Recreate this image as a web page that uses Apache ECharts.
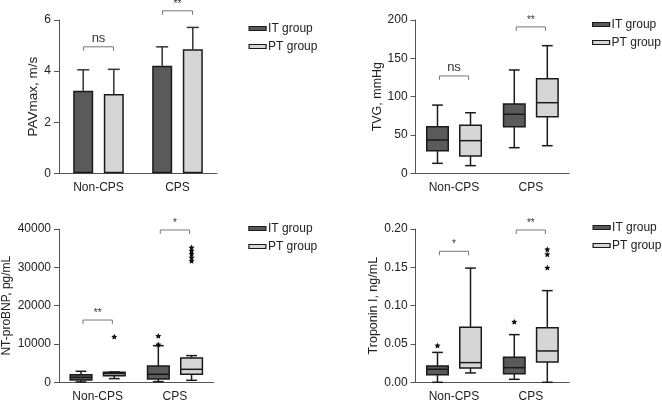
<!DOCTYPE html>
<html>
<head>
<meta charset="utf-8">
<script src="https://cdn.jsdelivr.net/npm/echarts@6/dist/echarts.min.js"></script>
<style>
html,body{margin:0;padding:0;background:#fff;}
#c{width:662px;height:403px;}
</style>
</head>
<body>
<div id="c"></div>
<script>
// ---------- data ----------
var categories = ['Non-CPS', 'CPS'];
var groupNames = ['IT group', 'PT group'];

// PAVmax, m/s (mean, SD)
var pavITMean = [3.23, 4.21];
var pavITSD   = [0.82, 0.74];
var pavPTMean = [3.10, 4.86];
var pavPTSD   = [0.97, 0.85];
var pavTicks  = [0, 2, 4, 6];
var pavSig    = [[0, 4.95], [1, 6.36]];
var pavSigLabels = ['ns', '**'];

// TVG, mmHg  [min, Q1, median, Q3, max]
var tvgIT = [[13, 29.5, 43.5, 60.8, 89], [33.4, 60.8, 77, 90.4, 134.8]];
var tvgPT = [[10, 22.6, 42.6, 62.6, 79], [36, 73.9, 92.1, 123.4, 166.5]];
var tvgTicks = [0, 50, 100, 150, 200];
var tvgSig = [[0, 127], [1, 191]];
var tvgSigLabels = ['ns', '**'];

// NT-proBNP, pg/mL
var bnpIT = [[100, 600, 1300, 2000, 2870], [170, 870, 2090, 4260, 9560]];
var bnpPT = [[960, 1740, 2260, 2600, 2700], [520, 2090, 3390, 6350, 6960]];
var bnpITOut = [[1, 9900], [1, 12100]];
var bnpPTOut = [[0, 11900], [1, 31700], [1, 32600], [1, 33500], [1, 34300], [1, 35200]];
var bnpTicks = [0, 10000, 20000, 30000, 40000];
var bnpSig = [[0, 16250], [1, 39740]];
var bnpSigLabels = ['**', '*'];

// Troponin I, ng/mL
var tropIT = [[0, 0.010, 0.017, 0.0213, 0.039], [0.0039, 0.0113, 0.0191, 0.0326, 0.0622]];
var tropPT = [[0.0122, 0.0187, 0.0257, 0.0717, 0.149], [0, 0.0265, 0.0409, 0.0713, 0.1196]];
var tropITOut = [[0, 0.048], [1, 0.079]];
var tropPTOut = [[1, 0.1495], [1, 0.167], [1, 0.1735]];
var tropTicks = [0, 0.05, 0.10, 0.15, 0.20];
var tropSig = [[0, 0.1709], [1, 0.1987]];
var tropSigLabels = ['*', '**'];

// ---------- styling ----------
var FONT = '"Liberation Sans", Arial, sans-serif';
var IT_FILL = '#5a5a5a';
var PT_FILL = '#d6d6d6';
var EDGE = '#1a1a1a';
var AXIS = '#555';
var TXT = '#222';
var STAR = 'M0,-10 L2.9,-4 L9.5,-3.1 L4.7,1.5 L5.9,8.1 L0,5 L-5.9,8.1 L-4.7,1.5 L-9.5,-3.1 L-2.9,-4 Z';

function withIndex(arr) { return arr.map(function (d, i) { return [i].concat(d); }); }

function boxItem(side, fill) {
  return function (params, api) {
    var cat = api.value(0);
    var band = api.size([1, 0])[0];
    var cx = api.coord([cat, 0])[0] + side * band * 0.215;
    var w = band * 0.28, cw = w * 0.5;
    var Y = function (i) { return api.coord([cat, api.value(i)])[1]; };
    var lo = Y(1), q1 = Y(2), md = Y(3), q3 = Y(4), hi = Y(5);
    var ls = { stroke: EDGE, lineWidth: 1.5 };
    return { type: 'group', children: [
      { type: 'line', shape: { x1: cx, y1: q3, x2: cx, y2: hi }, style: ls },
      { type: 'line', shape: { x1: cx, y1: q1, x2: cx, y2: lo }, style: ls },
      { type: 'line', shape: { x1: cx - cw / 2, y1: hi, x2: cx + cw / 2, y2: hi }, style: ls },
      { type: 'line', shape: { x1: cx - cw / 2, y1: lo, x2: cx + cw / 2, y2: lo }, style: ls },
      { type: 'rect', shape: { x: cx - w / 2, y: q3, width: w, height: q1 - q3 }, style: { fill: fill, stroke: EDGE, lineWidth: 1.5 } },
      { type: 'line', shape: { x1: cx - w / 2, y1: md, x2: cx + w / 2, y2: md }, style: ls }
    ]};
  };
}

function starItem(side) {
  return function (params, api) {
    var cat = api.value(0);
    var band = api.size([1, 0])[0];
    var p = api.coord([cat, api.value(1)]);
    var cx = p[0] + side * band * 0.215;
    return { type: 'path', shape: { pathData: STAR, x: cx - 3, y: p[1] - 3, width: 6, height: 6 }, style: { fill: '#111' } };
  };
}

function sigItem(labels) {
  return function (params, api) {
    var cat = api.value(0);
    var band = api.size([1, 0])[0];
    var c = api.coord([cat, api.value(1)]);
    var h = band * 0.19;
    var lab = labels[params.dataIndex];
    var fs = lab === 'ns' ? 13 : 10;
    return { type: 'group', children: [
      { type: 'polyline', shape: { points: [[c[0] - h, c[1] + 4], [c[0] - h, c[1]], [c[0] + h, c[1]], [c[0] + h, c[1] + 4]] },
        style: { stroke: '#777', lineWidth: 1, fill: null } },
      { type: 'text', style: { text: lab, x: c[0], y: c[1] - 2, align: 'center', verticalAlign: 'bottom',
        font: fs + 'px ' + FONT, fill: '#333' } }
    ]};
  };
}

function errItem(side, sd) {
  return function (params, api) {
    var cat = api.value(0);
    var m = api.value(1);
    var p0 = api.coord([cat, m]);
    var p1 = api.coord([cat, m + sd[params.dataIndex]]);
    var cx = p0[0] + side * 15.3;
    var ls = { stroke: '#333', lineWidth: 1.5 };
    return { type: 'group', children: [
      { type: 'line', shape: { x1: cx, y1: p0[1], x2: cx, y2: p1[1] }, style: ls },
      { type: 'line', shape: { x1: cx - 6, y1: p1[1], x2: cx + 6, y2: p1[1] }, style: ls }
    ]};
  };
}

var grids = [
  { left: 59, top: 20, width: 158, height: 153.3 },
  { left: 415.6, top: 20, width: 153.6, height: 153.3 },
  { left: 59, top: 229, width: 154.6, height: 153.3 },
  { left: 415.6, top: 229, width: 153.6, height: 153.3 }
];

function xAx(i) {
  return {
    type: 'category', gridIndex: i, data: categories,
    axisLine: { lineStyle: { color: AXIS, width: 1 } },
    axisTick: { alignWithLabel: true, length: 5, lineStyle: { color: AXIS } },
    axisLabel: { color: TXT, fontSize: 12, fontFamily: FONT, margin: 8 }
  };
}
function yAx(i, ticks, name, gap, nameSize, fmt) {
  return {
    type: 'value', gridIndex: i, min: ticks[0], max: ticks[ticks.length - 1], interval: ticks[1] - ticks[0],
    name: name, nameLocation: 'middle', nameGap: gap,
    nameTextStyle: { color: TXT, fontSize: nameSize, fontFamily: FONT },
    axisLine: { show: true, lineStyle: { color: AXIS, width: 1 } },
    axisTick: { show: true, length: 5, lineStyle: { color: AXIS } },
    splitLine: { show: false },
    axisLabel: { color: TXT, fontSize: 12, fontFamily: FONT, margin: 8, formatter: fmt || function (v) { return String(v); } }
  };
}
function legend(left, top) {
  return {
    orient: 'vertical', left: left, top: top, padding: 0, itemGap: 6,
    itemWidth: 17, itemHeight: 4, icon: 'rect',
    data: groupNames, selectedMode: false,
    itemStyle: { borderColor: EDGE, borderWidth: 1.2 },
    textStyle: { color: TXT, fontSize: 12, fontFamily: FONT, padding: [0, 0, 0, -3] }
  };
}

function boxSeries(i, itData, ptData, itOut, ptOut, sig, sigLabels) {
  var s = [
    { type: 'custom', name: groupNames[0], xAxisIndex: i, yAxisIndex: i, clip: false,
      itemStyle: { color: IT_FILL }, renderItem: boxItem(-1, IT_FILL), data: withIndex(itData),
      encode: { x: 0, y: [1, 2, 3, 4, 5] } },
    { type: 'custom', name: groupNames[1], xAxisIndex: i, yAxisIndex: i, clip: false,
      itemStyle: { color: PT_FILL }, renderItem: boxItem(1, PT_FILL), data: withIndex(ptData),
      encode: { x: 0, y: [1, 2, 3, 4, 5] } },
    { type: 'custom', xAxisIndex: i, yAxisIndex: i, clip: false, renderItem: sigItem(sigLabels), data: sig,
      encode: { x: 0, y: 1 } }
  ];
  if (itOut) s.push({ type: 'custom', xAxisIndex: i, yAxisIndex: i, clip: false, renderItem: starItem(-1), data: itOut, encode: { x: 0, y: 1 } });
  if (ptOut) s.push({ type: 'custom', xAxisIndex: i, yAxisIndex: i, clip: false, renderItem: starItem(1), data: ptOut, encode: { x: 0, y: 1 } });
  return s;
}

var series = [
  { type: 'bar', name: groupNames[0], xAxisIndex: 0, yAxisIndex: 0, data: pavITMean, barWidth: 20, barGap: '53%',
    itemStyle: { color: IT_FILL, borderColor: EDGE, borderWidth: 1.5 } },
  { type: 'bar', name: groupNames[1], xAxisIndex: 0, yAxisIndex: 0, data: pavPTMean, barWidth: 20, barGap: '53%',
    itemStyle: { color: PT_FILL, borderColor: EDGE, borderWidth: 1.5 } },
  { type: 'custom', xAxisIndex: 0, yAxisIndex: 0, clip: false, renderItem: errItem(-1, pavITSD),
    data: pavITMean.map(function (v, i) { return [i, v]; }), encode: { x: 0, y: 1 }, z: 1 },
  { type: 'custom', xAxisIndex: 0, yAxisIndex: 0, clip: false, renderItem: errItem(1, pavPTSD),
    data: pavPTMean.map(function (v, i) { return [i, v]; }), encode: { x: 0, y: 1 }, z: 1 },
  { type: 'custom', xAxisIndex: 0, yAxisIndex: 0, clip: false, renderItem: sigItem(pavSigLabels), data: pavSig,
    encode: { x: 0, y: 1 } }
].concat(
  boxSeries(1, tvgIT, tvgPT, null, null, tvgSig, tvgSigLabels),
  boxSeries(2, bnpIT, bnpPT, bnpITOut, bnpPTOut, bnpSig, bnpSigLabels),
  boxSeries(3, tropIT, tropPT, tropITOut, tropPTOut, tropSig, tropSigLabels)
);

var chart = echarts.init(document.getElementById('c'), null, { renderer: 'canvas' });
chart.setOption({
  animation: false,
  backgroundColor: '#fff',
  textStyle: { fontFamily: FONT },
  grid: grids,
  xAxis: [xAx(0), xAx(1), xAx(2), xAx(3)],
  yAxis: [
    yAx(0, pavTicks, 'PAVmax, m/s', 18, 13.5),
    yAx(1, tvgTicks, 'TVG, mmHg', 32, 12.5),
    yAx(2, bnpTicks, 'NT-proBNP, pg/mL', 46, 12),
    yAx(3, tropTicks, 'Troponin I, ng/mL', 34, 12.5, function (v) { return v.toFixed(2); })
  ],
  legend: [legend(248.5, 22.5), legend(592, 18.5), legend(248.3, 222.5), legend(592.5, 221.5)],
  series: series
});
</script>
</body>
</html>
